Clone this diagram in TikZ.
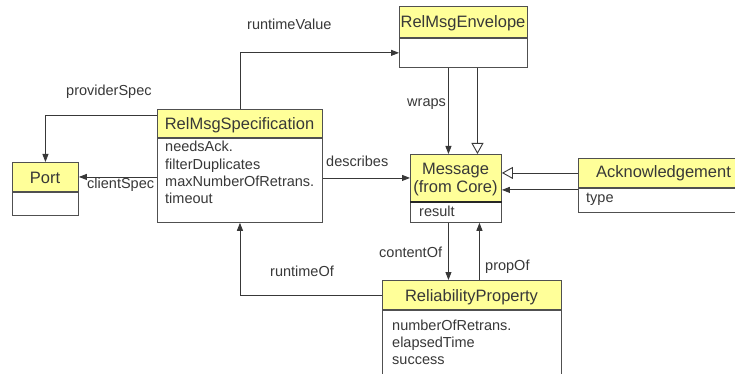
\documentclass[tikz,border=0pt]{standalone}
\usepackage{fontspec}
\setmainfont{Liberation Sans}
\usetikzlibrary{arrows.meta}
\definecolor{umlyellow}{HTML}{FFFF99}
\definecolor{boxline}{HTML}{505050}
\definecolor{wire}{HTML}{383838}
\definecolor{ink}{HTML}{383838}
\begin{document}
\begin{tikzpicture}[x=1pt,y=-1pt,
		head/.style={draw=boxline, fill=umlyellow, line width=0.9pt, anchor=north west, inner sep=0pt},
		body/.style={draw=boxline, fill=white, line width=0.9pt, anchor=north west, inner sep=0pt},
		title/.style={font=\fontsize{16.5}{19}\selectfont, text=ink, anchor=base, inner sep=0pt},
		attr/.style={font=\fontsize{14.5}{17}\selectfont, text=ink, anchor=base west, inner sep=0pt},
		lbl/.style={font=\fontsize{14.5}{17}\selectfont, text=ink, anchor=base west, inner sep=0pt},
		assoc/.style={draw=wire, line width=0.9pt, -{Triangle[length=8pt,width=6pt]}},
		gen/.style={draw=wire, line width=0.9pt, -{Triangle[open,length=11pt,width=12pt,fill=white]}}]
	\useasboundingbox (0,0) rectangle (735,374);
	\fill[white] (0,0) rectangle (735,374);
	\clip (0,0) rectangle (735,374);
	% Port
	\node[head, minimum width=66pt, minimum height=29pt] (portH) at (12,162) {};
	\node[body, minimum width=66pt, minimum height=23pt] (portB) at (portH.south west) {};
	\node[title] (portT) at (45,183) {Port};
	% RelMsgSpecification
	\node[head, minimum width=165pt, minimum height=28pt] (specH) at (157,109) {};
	\node[body, minimum width=165pt, minimum height=84pt] (specB) at (specH.south west) {};
	\node[title] (specT) at (239.5,130) {RelMsgSpecification};
	\foreach \a [count=\i] in {needsAck.,filterDuplicates,maxNumberOfRetrans.,timeout}
	{
		\node[attr] (specA\i) at (165,135+17*\i) {\a};
	}
	% RelMsgEnvelope
	\node[head, minimum width=128pt, minimum height=31pt] (envH) at (399,6) {};
	\node[body, minimum width=128pt, minimum height=29pt] (envB) at (envH.south west) {};
	\node[title] (envT) at (463,27.5) {RelMsgEnvelope};
	% Message (from Core)
	\node[head, minimum width=91pt, minimum height=47pt] (msgH) at (410,154) {};
	\node[body, minimum width=91pt, minimum height=20pt] (msgB) at (msgH.south west) {};
	\draw[line width=1.8pt, black!85] (msgH.south west) -- (msgH.south east);
	\node[title] (msgT1) at (455.5,174) {Message};
	\node[title] (msgT2) at (455.5,192) {(from Core)};
	\node[attr] (msgA1) at (419,216) {result};
	% Acknowledgement
	\node[head, minimum width=162pt, minimum height=29pt] (ackH) at (578,158) {};
	\node[body, minimum width=162pt, minimum height=24pt] (ackB) at (ackH.south west) {};
	\node[title] (ackT) at (663.5,178) {Acknowledgement};
	\node[attr] (ackA1) at (586,202) {type};
	% ReliabilityProperty
	\node[head, minimum width=179pt, minimum height=29pt] (relH) at (382,280) {};
	\node[body, minimum width=179pt, minimum height=75pt] (relB) at (relH.south west) {};
	\node[title] (relT) at (471.5,301.7) {ReliabilityProperty};
	\foreach \a [count=\i] in {numberOfRetrans.,elapsedTime,success}
	{
		\node[attr] (relA\i) at (392,313+17*\i) {\a};
	}
	% helper points for the vertical links
	\coordinate (wrapTop) at ([xshift=-15pt]envB.south);
	\coordinate (envGen) at ([xshift=14pt]envB.south);
	\coordinate (ackLow) at ([yshift=-2pt]ackH.south west);
	\coordinate (contTop) at ([xshift=-7.5pt]msgB.south);
	\coordinate (propTop) at ([xshift=23.5pt]msgB.south);
	\coordinate (provStart) at ([yshift=8pt]specH.west);
	% associations
	\draw[assoc] (specH.north) |- (envB.west);
	\draw[assoc] (provStart) -| (portH.north);
	\draw[assoc] (portH.east -| specB.west) -- (portH.east);
	\draw[assoc] (msgH.west -| specB.east) -- (msgH.west);
	\draw[assoc] (wrapTop) -- (wrapTop |- msgH.north);
	\draw[assoc] (ackLow) -- (ackLow -| msgH.east);
	\draw[assoc] (contTop) -- (contTop |- relH.north);
	\draw[assoc] (propTop |- relH.north) -- (propTop);
	\draw[assoc] (relH.west) -| (specB.south);
	% generalizations
	\draw[gen] (envGen) -- (envGen |- msgH.north);
	\draw[gen] (ackH.west) -- (ackH.west -| msgH.east);
	% role names
	\node[lbl] (rv) at (247,30) {runtimeValue};
	\node[lbl] (ps) at (66,96) {providerSpec};
	\node[lbl] (cs) at (87,188) {clientSpec};
	\node[lbl] (ds) at (326,166) {describes};
	\node[lbl] (wr) at (407,107) {wraps};
	\node[lbl] (co) at (379,257) {contentOf};
	\node[lbl] (po) at (485,270) {propOf};
	\node[lbl] (ro) at (270,276) {runtimeOf};
\end{tikzpicture}
\end{document}
